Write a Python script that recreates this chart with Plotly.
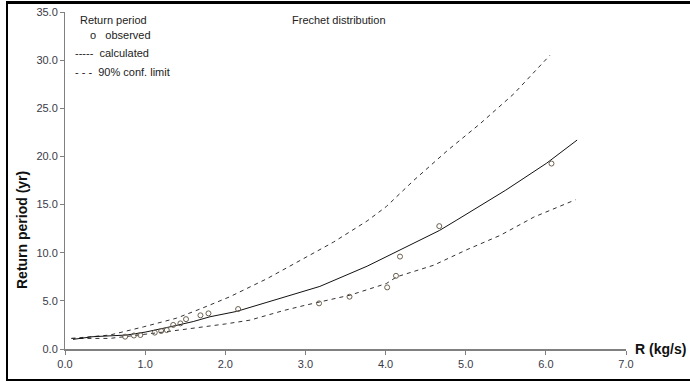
import plotly.graph_objects as go

# Observed return periods
obs_R = [0.75, 0.86, 0.94, 1.12, 1.2, 1.27, 1.35, 1.44, 1.51, 1.69, 1.79, 2.16,
         3.17, 3.55, 4.02, 4.13, 4.18, 4.67, 6.07]
obs_T = [1.28, 1.4, 1.45, 1.7, 1.87, 1.97, 2.5, 2.66, 3.1, 3.5, 3.7, 4.15,
         4.74, 5.43, 6.4, 7.6, 9.6, 12.76, 19.26]

# Calculated (Frechet) curve
calc_R = [0.1, 0.35, 0.77, 1.0, 1.31, 1.6, 1.81, 2.14, 2.52, 2.93, 3.18, 3.77,
          4.16, 4.67, 4.89, 5.5, 6.01, 6.39]
calc_T = [1.0, 1.28, 1.45, 1.75, 2.3, 2.85, 3.35, 3.9, 4.85, 5.9, 6.5, 8.6,
          10.2, 12.3, 13.4, 16.5, 19.3, 21.7]

# 90% confidence limits
upper_R = [0.08, 0.56, 0.98, 1.39, 1.7, 2.05, 2.52, 2.93, 3.35, 3.77, 4.01,
           4.35, 4.77, 5.18, 5.6, 6.05]
upper_T = [1.1, 1.45, 2.3, 3.2, 4.2, 5.4, 7.3, 9.2, 11.1, 13.3, 14.8,
           17.5, 20.6, 23.4, 26.5, 30.5]
lower_R = [0.08, 0.56, 1.27, 1.81, 2.0, 2.31, 2.73, 3.0, 3.18, 3.56, 4.01,
           4.14, 4.6, 5.01, 5.43, 5.85, 6.37]
lower_T = [1.1, 1.1, 1.8, 2.35, 2.6, 3.0, 4.0, 4.55, 4.9, 5.6, 6.8,
           7.5, 8.7, 10.3, 11.8, 13.7, 15.5]

x_ticks = [0, 1, 2, 3, 4, 5, 6, 7]
y_ticks = [0, 5, 10, 15, 20, 25, 30, 35]

fig = go.Figure()
fig.add_trace(go.Scatter(x=upper_R, y=upper_T, mode="lines",
                         line=dict(color="#333333", width=1, dash="4px,4px")))
fig.add_trace(go.Scatter(x=lower_R, y=lower_T, mode="lines",
                         line=dict(color="#333333", width=1, dash="4px,4px")))
fig.add_trace(go.Scatter(x=calc_R, y=calc_T, mode="lines",
                         line=dict(color="#111111", width=1)))
fig.add_trace(go.Scatter(x=obs_R, y=obs_T, mode="markers",
                         marker=dict(symbol="circle-open", size=5,
                                     color="#6b6050", line=dict(width=1))))

axis_font = dict(family="Liberation Sans, Arial, sans-serif", size=11, color="#3a3a48")
fig.update_xaxes(range=[0, 7], tickvals=x_ticks, tickformat=".1f", automargin=False,
                 showgrid=False, zeroline=False, showline=True,
                 linecolor="#808080", linewidth=2, ticks="outside",
                 ticklen=4, tickcolor="#808080", tickfont=axis_font)
fig.update_yaxes(range=[0, 35], tickvals=y_ticks, tickformat=".1f", automargin=False,
                 showgrid=False, zeroline=False, showline=True,
                 linecolor="#808080", linewidth=1, ticks="outside",
                 ticklen=4, tickcolor="#808080", tickfont=axis_font)

def px_x(p):
    return (p - 65) / 561.0

def px_y(p):
    return (349 - p) / 337.0

txt = dict(family="Liberation Sans, Arial, sans-serif", size=11, color="#222222")
ann = [
    dict(text="Return period", x=px_x(78), y=px_y(20)),
    dict(text="o   observed", x=px_x(88), y=px_y(35)),
    dict(text="-----  calculated", x=px_x(73), y=px_y(53)),
    dict(text="- - -  90% conf. limit", x=px_x(73), y=px_y(72)),
    dict(text="Frechet distribution", x=px_x(290), y=px_y(20)),
]
annotations = [dict(xref="paper", yref="paper", xanchor="left", yanchor="middle",
                    showarrow=False, font=txt, **a) for a in ann]
bold = dict(family="Liberation Sans, Arial, sans-serif", size=14, color="#111111")
annotations.append(dict(text="<b>Return period (yr)</b>", textangle=-90,
                        xref="paper", yref="paper", x=px_x(22), y=px_y(230),
                        xanchor="center", yanchor="middle", showarrow=False, font=bold))
annotations.append(dict(text="<b>R (kg/s)</b>", xref="paper", yref="paper",
                        x=px_x(633), y=px_y(349), xanchor="left", yanchor="middle",
                        showarrow=False, font=bold))

shapes = [
    dict(type="rect", xref="paper", yref="paper", x0=px_x(7), x1=px_x(720),
         y0=px_y(380), y1=px_y(3), line=dict(color="black", width=2),
         fillcolor="rgba(0,0,0,0)"),
]

fig.update_layout(width=690, height=382, showlegend=False,
                  margin=dict(l=65, r=64, t=12, b=33, autoexpand=False),
                  paper_bgcolor="white", plot_bgcolor="white",
                  annotations=annotations, shapes=shapes)

post = (
    "document.body.style.margin='0';document.body.style.padding='0';"
    "document.body.style.overflow='hidden';"
    "var b=document.createElement('div');"
    "b.style.cssText='position:absolute;left:6px;top:1px;width:684px;height:3px;"
    "background:#000;z-index:1000;pointer-events:none;';"
    "document.body.appendChild(b);"
)
fig.write_html("out.html", config={"displayModeBar": False}, post_script=post)
